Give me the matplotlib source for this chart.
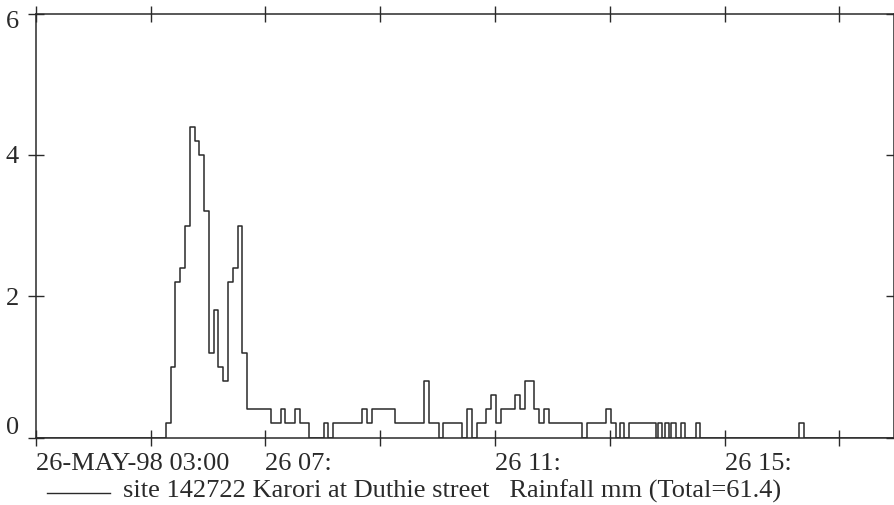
import numpy as np
import matplotlib.pyplot as plt
import matplotlib.transforms as mtransforms
from matplotlib.lines import Line2D

# rainfall steps: start time of each step (26 May 1998) and value in mm
step_start = ["05:16", "05:21", "05:26", "05:31", "05:36", "05:41", "05:46", "05:51",
              "05:56", "06:01", "06:06", "06:11", "06:16", "06:21", "06:26", "06:31",
              "06:36", "06:41", "07:06", "07:16", "07:21", "07:31", "07:36", "07:46",
              "08:01", "08:06", "08:11", "08:41", "08:46", "08:51", "09:16", "09:46",
              "09:51", "10:01", "10:06", "10:26", "10:31", "10:36", "10:41", "10:51",
              "10:56", "11:01", "11:06", "11:21", "11:26", "11:31", "11:41", "11:46",
              "11:51", "11:56", "12:31", "12:36", "12:56", "13:01", "13:06", "13:11",
              "13:15", "13:20", "13:48", "13:50", "13:55", "13:58", "14:02", "14:04",
              "14:09", "14:14", "14:19", "14:30", "14:34", "16:18", "16:23"]
rain_mm = [0.2, 1.0, 2.2, 2.4, 3.0, 4.4, 4.2, 4.0,
           3.2, 1.2, 1.8, 1.0, 0.8, 2.2, 2.4, 3.0,
           1.2, 0.4, 0.2, 0.4, 0.2, 0.4, 0.2, 0.0,
           0.2, 0.0, 0.2, 0.4, 0.2, 0.4, 0.2, 0.8,
           0.2, 0.0, 0.2, 0.0, 0.4, 0.0, 0.2, 0.4,
           0.6, 0.2, 0.4, 0.6, 0.4, 0.8, 0.4, 0.2,
           0.4, 0.2, 0.0, 0.2, 0.4, 0.2, 0.0, 0.2,
           0.0, 0.2, 0.0, 0.2, 0.0, 0.2, 0.0, 0.2,
           0.0, 0.2, 0.0, 0.2, 0.0, 0.2, 0.0]

tick_hours = [3, 5, 7, 9, 11, 13, 15, 17]
tick_labels = ["26-MAY-98 03:00", "", "26 07:", "", "26 11:", "", "26 15:", ""]
y_ticks = [0, 2, 4, 6]

site_label = "site 142722 Karori at Duthie street   Rainfall mm (Total=61.4)"

def to_hours(s):
    h, m = s.split(":")
    return int(h) + int(m) / 60

hours = np.array([to_hours(s) for s in step_start])
# pad with zero before and after so the trace sits on the baseline
t = np.concatenate([[3.0], hours, [17.95]])
v = np.concatenate([[0.0], rain_mm, [0.0]])

plt.rcParams['font.family'] = ['Liberation Serif', 'DejaVu Serif']
ink = '#2a2a2a'
fs = 19

fig = plt.figure(figsize=(8.95, 5.05), dpi=100)
ax = fig.add_axes([35.7 / 895, 1 - 437.5 / 505, (894 - 35.7) / 895, (437.5 - 13.5) / 505])

ax.step(t, v, where='post', color=ink, lw=1.1)

ax.set_xlim(3.0, 17.95)
ax.set_ylim(0, 6)

ax.set_xticks(tick_hours)
ax.set_xticklabels(tick_labels, fontsize=fs, ha='left')
ax.set_yticks(y_ticks)
ax.set_yticklabels([str(y) for y in y_ticks], fontsize=fs)

ax.tick_params(axis='both', direction='inout', length=12, width=1.0, color=ink,
               top=True, right=True, labelcolor=ink)
ax.tick_params(axis='x', pad=5)
ax.tick_params(axis='y', pad=6)

# lift the "0" off the time labels, drop the "6" a bit
ylbls = ax.get_yticklabels()
ylbls[0].set_transform(ylbls[0].get_transform() +
                       mtransforms.ScaledTranslation(0, 12 / 100, fig.dpi_scale_trans))
ylbls[-1].set_transform(ylbls[-1].get_transform() +
                        mtransforms.ScaledTranslation(0, -6 / 100, fig.dpi_scale_trans))

for sp in ax.spines.values():
    sp.set_color(ink)
    sp.set_linewidth(1.1)

# legend line under the axis
fig.add_artist(Line2D([47 / 895, 110 / 895], [1 - 493 / 505, 1 - 493 / 505],
                      color=ink, lw=1.0))
fig.text(123 / 895, 1 - 491 / 505, site_label, fontsize=fs, color=ink,
         va='center', ha='left')

fig.savefig('out.png', dpi=100)
